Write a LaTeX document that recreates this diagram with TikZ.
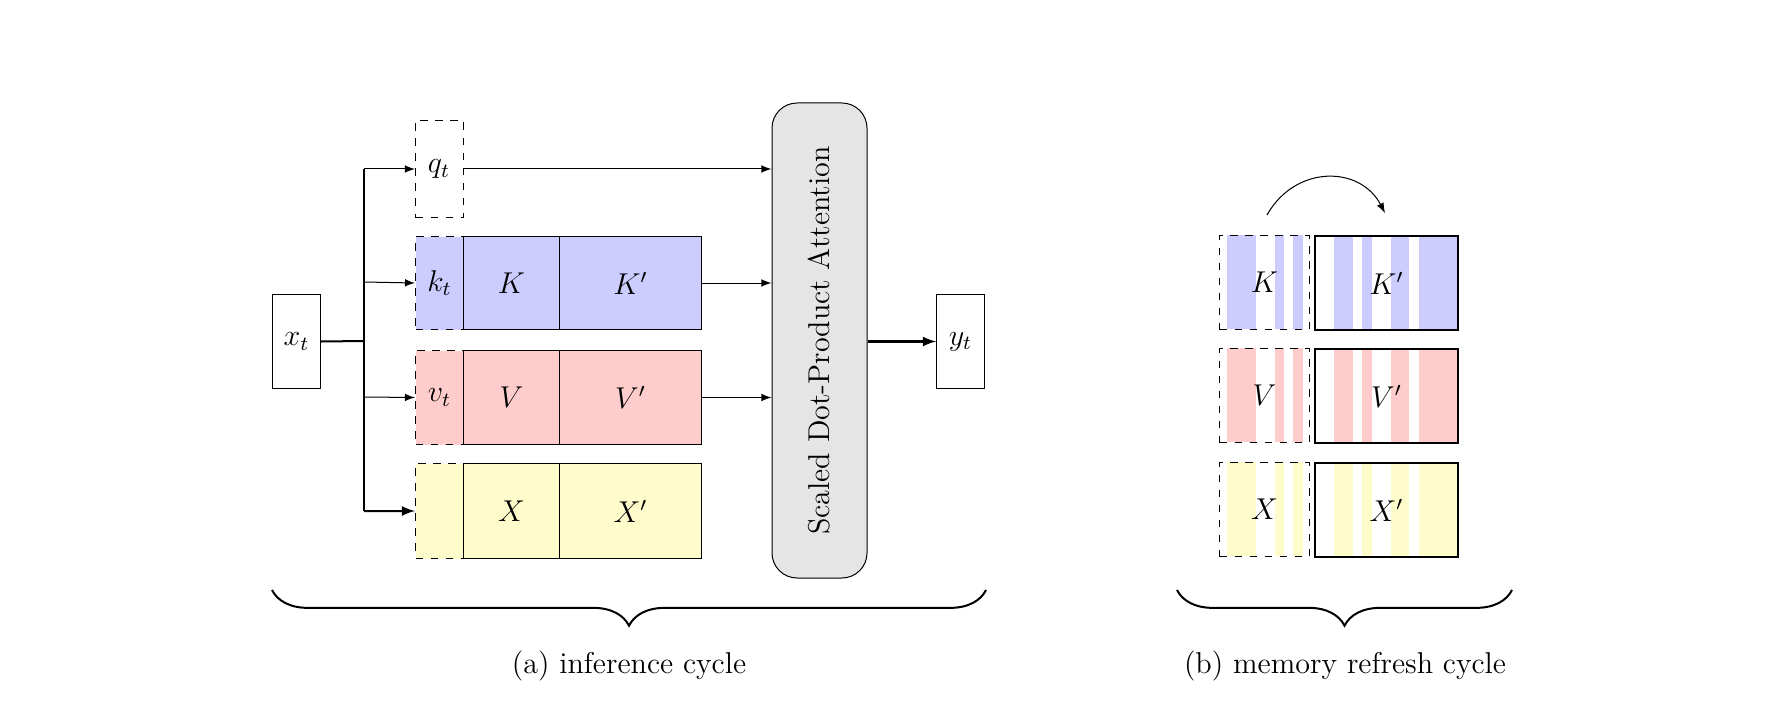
\documentclass[tikz,border=0pt]{standalone}
\usetikzlibrary{positioning,decorations.pathreplacing}
\definecolor{kcol}{RGB}{204,204,255}
\definecolor{vcol}{RGB}{255,204,204}
\definecolor{xcol}{RGB}{255,252,204}
\newlength\pxl \setlength\pxl{0.014cm}
\tikzset{
  cell/.style={draw,inner sep=0pt,anchor=north west,font=\large},
  newcell/.style={cell,dashed},
  brc/.style={decorate,decoration={brace,mirror,amplitude=0.5cm},thick},
}
\begin{document}
\begin{tikzpicture}[x=\pxl,y=-\pxl]
        \useasboundingbox (0,0) rectangle (1785,726);
        % (a) inference cycle
        \node[cell,minimum width=48\pxl,minimum height=94\pxl] (xt) at (272,294) {$x_t$};
        \node[newcell,minimum width=48\pxl,minimum height=97\pxl] (qt) at (415,120) {};
        \node[font=\large] at (439,169) {$q_t$};
        \node[newcell,fill=kcol,minimum width=48\pxl,minimum height=93\pxl] (kt) at (415,236) {$k_t$};
        \node[cell,fill=kcol,minimum width=96\pxl,minimum height=93\pxl] (K) at (463,236) {$K$};
        \node[cell,fill=kcol,minimum width=142\pxl,minimum height=93\pxl] (Kp) at (559,236) {$K'$};
        \node[newcell,fill=vcol,minimum width=48\pxl,minimum height=94\pxl] (vt) at (415,350) {$v_t$};
        \node[cell,fill=vcol,minimum width=96\pxl,minimum height=94\pxl] (V) at (463,350) {$V$};
        \node[cell,fill=vcol,minimum width=142\pxl,minimum height=94\pxl] (Vp) at (559,350) {$V'$};
        \node[newcell,fill=xcol,minimum width=48\pxl,minimum height=95\pxl] (xn) at (415,463) {};
        \node[cell,fill=xcol,minimum width=96\pxl,minimum height=95\pxl] (X) at (463,463) {$X$};
        \node[cell,fill=xcol,minimum width=142\pxl,minimum height=95\pxl] (Xp) at (559,463) {$X'$};
        \node[draw,fill=gray!20,rounded corners=10pt,minimum width=95\pxl,minimum height=475\pxl,font=\large] (att) at (819.5,340.5) {};
        \node[rotate=90,font=\large] at (att.center) {Scaled Dot-Product Attention};
        \node[cell,minimum width=48\pxl,minimum height=94\pxl] (yt) at (936,294) {$y_t$};

        \coordinate (J) at (364,341);
        \draw[thick] (xt.east) -- (J);
        \draw[thick] (364,169) coordinate (Jq) -- (364,511) coordinate (Jx);
        \draw[-latex] (Jq) -- (qt.west|-Jq);
        \draw[-latex] (364,282) -- (kt.west);
        \draw[-latex] (364,397) -- (vt.west);
        \draw[-latex,thick] (Jx) -- (xn.west);
        \draw[-latex] (qt.east|-Jq) -- (att.west|-Jq);
        \draw[-latex] (Kp.east) -- (att.west|-Kp.east);
        \draw[-latex] (Vp.east) -- (att.west|-Vp.east);
        \draw[-latex,thick] (att.east|-yt.west) -- (yt.west);

        \draw[brc] (272,590) coordinate (ba) -- (986,590) coordinate (bb);
        \node[font=\large] (capa) at (629,666) {(a) inference cycle};

        % (b) memory refresh cycle
        \foreach \c/\ya/\yb in {kcol/235/329,vcol/348/442,xcol/462/556}{
          \foreach \xa/\xb in {1227/1256,1275/1284,1293/1303,1334/1353,1362/1372,1391/1409,1419/1457}
            \fill[\c] (\xa,\ya) rectangle (\xb,\yb);
        }
        \node[newcell,minimum width=90\pxl,minimum height=94\pxl] (M1) at (1219,235) {$K$};
        \node[cell,thick,minimum width=143\pxl,minimum height=94\pxl] (N1) at (1314,235) {$K'$};
        \node[newcell,minimum width=90\pxl,minimum height=94\pxl] (M2) at (1219,348) {$V$};
        \node[cell,thick,minimum width=143\pxl,minimum height=94\pxl] (N2) at (1314,348) {$V'$};
        \node[newcell,minimum width=90\pxl,minimum height=94\pxl] (M3) at (1219,462) {$X$};
        \node[cell,thick,minimum width=143\pxl,minimum height=94\pxl] (N3) at (1314,462) {$X'$};
        \coordinate (r1) at (1267,215);
        \coordinate (r2) at (1385,213);
        \draw[-latex] (r1) .. controls (1295,165) and (1360,165) .. (r2);

        \draw[brc] (1177,590) -- (1512,590);
        \node[font=\large] (capb) at (1345,666) {(b) memory refresh cycle};
      \end{tikzpicture}
\end{document}
